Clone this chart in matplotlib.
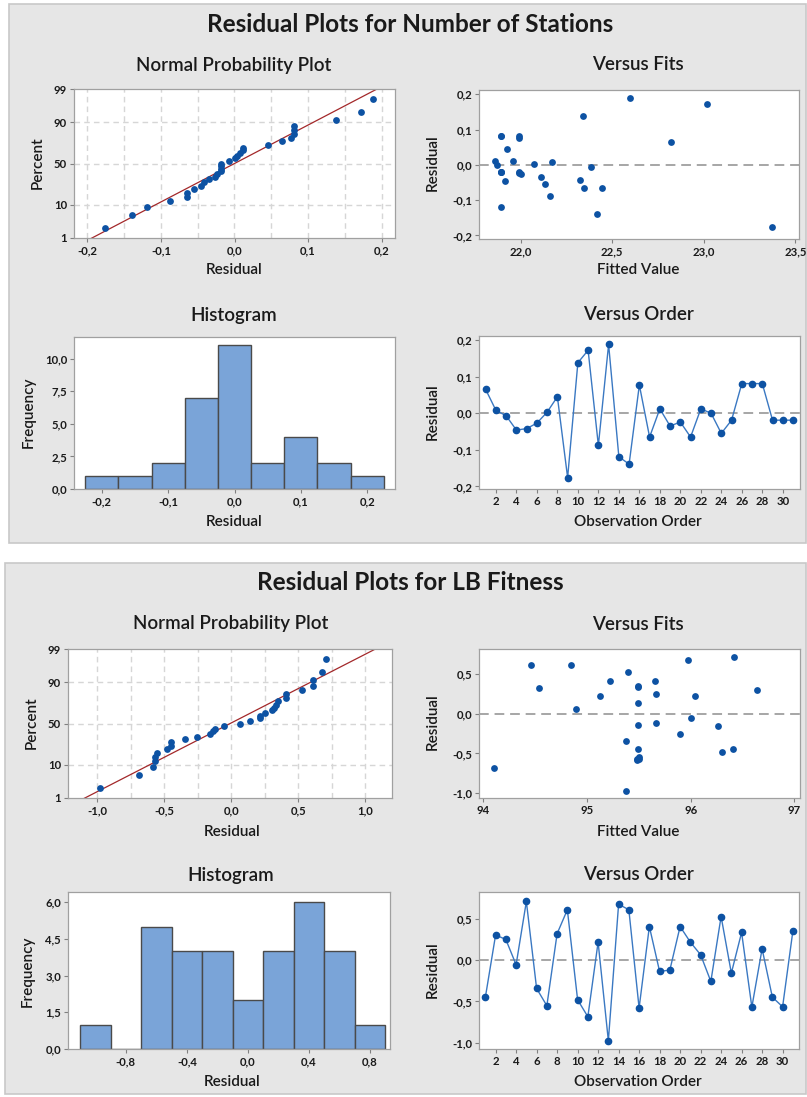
import matplotlib
matplotlib.use('Agg')
import matplotlib.pyplot as plt
from matplotlib.patches import Rectangle
from statistics import NormalDist
import numpy as np

plt.rcParams['font.family'] = ['Lato', 'DejaVu Sans']
plt.rcParams['axes.unicode_minus'] = False

# ---- Number of Stations ----
res_st = [0.065, 0.008, -0.007, -0.046, -0.042, -0.027, 0.003, 0.045, -0.176, 0.138,
          0.172, -0.088, 0.188, -0.119, -0.139, 0.077, -0.065, 0.012, -0.035, -0.024,
          -0.065, 0.012, 0.0, -0.055, -0.019, 0.081, 0.081, 0.081, -0.019, -0.019, -0.019]
fit_st = [22.82, 22.17, 22.385, 21.915, 22.325, 22.0, 22.07, 21.925, 23.37, 22.34,
          23.015, 22.16, 22.595, 21.89, 22.415, 21.99, 22.345, 21.86, 22.11, 21.99,
          22.445, 21.96, 21.87, 22.13, 21.89, 21.89, 21.89, 21.99, 21.89, 21.89, 21.99]
hist_st_edges = [-0.225, -0.175, -0.125, -0.075, -0.025, 0.025, 0.075, 0.125, 0.175, 0.225]
hist_st_counts = [1, 1, 2, 7, 11, 2, 4, 2, 1]

# ---- LB Fitness ----
res_lb = [-0.45, 0.305, 0.25, -0.056, 0.71, -0.343, -0.552, 0.32, 0.61, -0.48,
          -0.685, 0.218, -0.976, 0.677, 0.61, -0.58, 0.407, -0.137, -0.12, 0.407,
          0.218, 0.065, -0.258, 0.528, -0.157, 0.335, -0.569, 0.137, -0.448, -0.565, 0.351]
fit_lb = [96.41, 96.64, 95.67, 96.0, 96.42, 95.38, 95.50, 94.54, 94.456, 96.30,
          94.10, 95.13, 95.38, 95.97, 94.85, 95.48, 95.22, 95.49, 95.67, 95.66,
          96.04, 94.89, 95.90, 95.40, 96.26, 95.49, 95.50, 95.49, 95.49, 95.48, 95.49]
hist_lb_edges = [-1.1, -0.9, -0.7, -0.5, -0.3, -0.1, 0.1, 0.3, 0.5, 0.7, 0.9]
hist_lb_counts = [1, 0, 5, 4, 4, 2, 4, 6, 4, 1]

pct_ticks = [1, 10, 50, 90, 99]

W, H = 807, 1097
fig = plt.figure(figsize=(W / 100, H / 100), dpi=100)
fig.patch.set_facecolor('white')

BLUE = '#0d52a3'
LINE_BLUE = '#3a78c2'
TXT = '#1a1a1a'
nd = NormalDist()


def fmt(v, nd_=1):
    return f"{v:.{nd_}f}".replace('.', ',')


def px_axes(x0, y0, x1, y1):
    ax = fig.add_axes([x0 / W, 1 - y1 / H, (x1 - x0) / W, (y1 - y0) / H])
    ax.set_facecolor('white')
    for sp in ax.spines.values():
        sp.set_color('#a0a0a0')
        sp.set_linewidth(0.9)
    ax.tick_params(direction='out', length=3, width=0.8, color='#808080',
                   labelsize=8.2, labelcolor=TXT, pad=2)
    return ax


def ftext(x, y, s, size, weight='normal', rot=0):
    fig.text(x / W, 1 - y / H, s, ha='center', va='center', fontsize=size,
             fontweight=weight, rotation=rot, color=TXT)


def set_ticks(ax, xt, xl, yt, yl):
    ax.set_xticks(xt)
    ax.set_xticklabels(xl, fontweight='bold')
    ax.set_yticks(yt)
    ax.set_yticklabels(yl, fontweight='bold')


# grey panels behind the two blocks
fig.patches.append(Rectangle((9 / W, 1 - 543 / H), (806 - 9) / W, (543 - 4) / H,
                             transform=fig.transFigure, facecolor='#e6e6e6',
                             edgecolor='#c8c8c8', lw=1.2, zorder=-5))
fig.patches.append(Rectangle((5 / W, 1 - 1094 / H), (806 - 5) / W, (1094 - 563) / H,
                             transform=fig.transFigure, facecolor='#e6e6e6',
                             edgecolor='#c8c8c8', lw=1.2, zorder=-5))


def npp(box, res, xlim, xt, xdec, grid_x):
    ax = px_axes(*box)
    r = np.sort(np.array(res))
    n = len(r)
    z = [nd.inv_cdf((i - 0.3) / (n + 0.4)) for i in range(1, n + 1)]
    zlo, zhi = nd.inv_cdf(0.01), nd.inv_cdf(0.99)
    for g in grid_x:
        ax.axvline(g, color='#d6d6d6', lw=1, ls=(0, (4, 3)), zorder=1)
    for p in [10, 50, 90]:
        ax.axhline(nd.inv_cdf(p / 100), color='#d6d6d6', lw=1, ls=(0, (4, 3)), zorder=1)
    mu, sd = r.mean(), r.std(ddof=1)
    zz = np.array([zlo - 0.5, zhi + 0.5])
    ax.plot(mu + sd * zz, zz, color='#a3282a', lw=0.9, zorder=2)
    ax.scatter(r, z, s=24, color=BLUE, zorder=3, linewidths=0)
    ax.set_xlim(*xlim)
    ax.set_ylim(zlo, zhi)
    set_ticks(ax, xt, [fmt(v, xdec) for v in xt],
              [nd.inv_cdf(p / 100) for p in pct_ticks], [str(p) for p in pct_ticks])
    return ax


def vfits(box, fit, res, xlim, ylim, xt, xdec, yt):
    ax = px_axes(*box)
    ax.axhline(0, color='#a6a6a6', lw=1.4, ls=(0, (5, 3)), zorder=1)
    ax.scatter(fit, res, s=24, color=BLUE, zorder=3, linewidths=0)
    ax.set_xlim(*xlim)
    ax.set_ylim(*ylim)
    set_ticks(ax, xt, [fmt(v, xdec) for v in xt], yt, [fmt(v, 1) for v in yt])
    return ax


def hist(box, edges, counts, xlim, ylim, xt, yt):
    ax = px_axes(*box)
    e = np.array(edges)
    ax.bar(e[:-1], counts, width=np.diff(e), align='edge', color='#7aa4d8',
           edgecolor='#4a4a4a', lw=1.0, zorder=2)
    ax.set_xlim(*xlim)
    ax.set_ylim(*ylim)
    set_ticks(ax, xt, [fmt(v, 1) for v in xt], yt, [fmt(v, 1) for v in yt])
    return ax


def vorder(box, res, xlim, ylim, yt):
    ax = px_axes(*box)
    obs = np.arange(1, len(res) + 1)
    ax.axhline(0, color='#a6a6a6', lw=1.4, ls=(0, (5, 3)), zorder=1)
    ax.plot(obs, res, color=LINE_BLUE, lw=1.0, zorder=2)
    ax.plot(obs, res, 'o', color=BLUE, ms=4.5, zorder=3, mec=BLUE)
    ax.set_xlim(*xlim)
    ax.set_ylim(*ylim)
    xt = list(range(2, 31, 2))
    set_ticks(ax, xt, [str(v) for v in xt], yt, [fmt(v, 1) for v in yt])
    return ax


# ---------- top block ----------
ftext(410, 24, 'Residual Plots for Number of Stations', 17.5, 'bold')
ftext(234, 65, 'Normal Probability Plot', 13.5, 'semibold')
ftext(638, 65, 'Versus Fits', 13.5, 'semibold')
ftext(234, 315, 'Histogram', 13.5, 'semibold')
ftext(638, 315, 'Versus Order', 13.5, 'semibold')

npp((74, 89, 395, 238), res_st, (-0.218, 0.218), [-0.2, -0.1, 0.0, 0.1, 0.2], 1,
    np.arange(-0.2, 0.21, 0.05))
vfits((479, 90, 799, 239), fit_st, res_st, (21.772, 23.52), (-0.21, 0.212),
      [22.0, 22.5, 23.0, 23.5], 1, [-0.2, -0.1, 0.0, 0.1, 0.2])
hist((74, 337, 395, 489), hist_st_edges, hist_st_counts, (-0.242, 0.242), (0, 11.65),
     [-0.2, -0.1, 0.0, 0.1, 0.2], [0, 2.5, 5.0, 7.5, 10.0])
vorder((479, 336, 800, 489), res_st, (0.35, 31.68), (-0.207, 0.211),
       [-0.2, -0.1, 0.0, 0.1, 0.2])

ftext(38, 163, 'Percent', 11, 'semibold', 90)
ftext(234, 270, 'Residual', 11, 'semibold')
ftext(433, 163, 'Residual', 11, 'semibold', 90)
ftext(638, 270, 'Fitted Value', 11, 'semibold')
ftext(29, 412, 'Frequency', 11, 'semibold', 90)
ftext(234, 522, 'Residual', 11, 'semibold')
ftext(433, 412, 'Residual', 11, 'semibold', 90)
ftext(638, 522, 'Observation Order', 11, 'semibold')

# ---------- bottom block ----------
ftext(410, 583, 'Residual Plots for LB Fitness', 17.5, 'bold')
ftext(231, 624, 'Normal Probability Plot', 13.5, 'semibold')
ftext(638, 624, 'Versus Fits', 13.5, 'semibold')
ftext(231, 875, 'Histogram', 13.5, 'semibold')
ftext(638, 875, 'Versus Order', 13.5, 'semibold')

npp((68, 649, 392, 798), res_lb, (-1.217, 1.2), [-1.0, -0.5, 0.0, 0.5, 1.0], 1,
    np.arange(-1.0, 1.01, 0.25))
vfits((479, 649, 800, 798), fit_lb, res_lb, (93.958, 97.055), (-1.063, 0.816),
      [94, 95, 96, 97], 0, [-1.0, -0.5, 0.0, 0.5])
hist((68, 892, 390, 1049), hist_lb_edges, hist_lb_counts, (-1.179, 0.931), (0, 6.41),
     [-0.8, -0.4, 0.0, 0.4, 0.8], [0, 1.5, 3.0, 4.5, 6.0])
vorder((479, 892, 799, 1049), res_lb, (0.38, 31.6), (-1.076, 0.825),
       [-1.0, -0.5, 0.0, 0.5])

ftext(32, 723, 'Percent', 11, 'semibold', 90)
ftext(232, 832, 'Residual', 11, 'semibold')
ftext(433, 722, 'Residual', 11, 'semibold', 90)
ftext(638, 832, 'Fitted Value', 11, 'semibold')
ftext(28, 971, 'Frequency', 11, 'semibold', 90)
ftext(232, 1082, 'Residual', 11, 'semibold')
ftext(433, 970, 'Residual', 11, 'semibold', 90)
ftext(638, 1082, 'Observation Order', 11, 'semibold')

fig.savefig('out.png', dpi=100)
